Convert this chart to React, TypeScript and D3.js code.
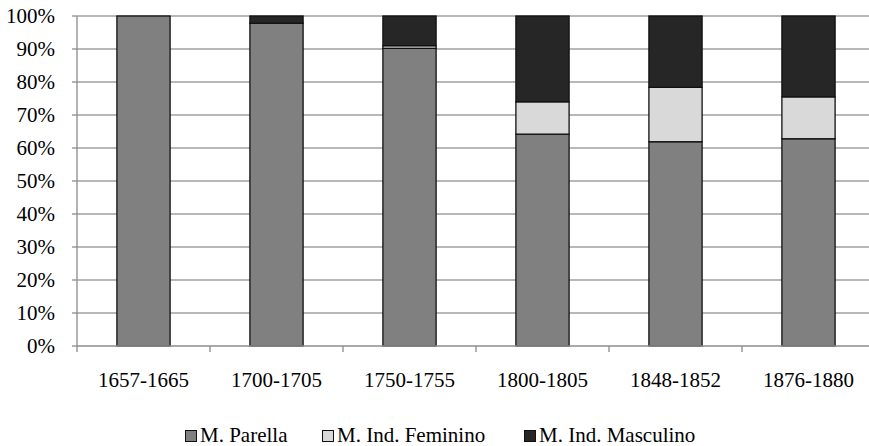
import React, { useEffect, useRef } from 'react';
import * as d3 from 'd3';

const periods = ['1657-1665', '1700-1705', '1750-1755', '1800-1805', '1848-1852', '1876-1880'];
const parella = [100, 97.8, 90.2, 64.2, 61.9, 62.8];
const indFeminino = [0, 0, 0.8, 9.8, 16.5, 12.7];
const indMasculino = [0, 2.2, 9.0, 26.0, 21.6, 24.5];
const seriesNames = ['M. Parella', 'M. Ind. Feminino', 'M. Ind. Masculino'];
const seriesColors = ['#808080', '#d9d9d9', '#262626'];
const yTicks = [0, 10, 20, 30, 40, 50, 60, 70, 80, 90, 100];

export default function App() {
  const svgRef = useRef<SVGSVGElement>(null);

  useEffect(() => {
    const svg = d3.select(svgRef.current);
    svg.selectAll('*').remove();

    const W = 869;
    const H = 446;
    const margin = { top: 16, left: 77, bottom: 100 };
    const plotW = 798;
    const plotH = H - margin.top - margin.bottom;
    const font = '"Liberation Serif", "Times New Roman", serif';
    const fontSize = '21px';

    const x = d3.scaleBand().domain(periods).range([margin.left, margin.left + plotW]).paddingInner(0.6).paddingOuter(0.3);
    const xOuter = d3.scaleBand().domain(periods).range([margin.left, margin.left + plotW]);
    const y = d3.scaleLinear().domain([0, 100]).range([margin.top + plotH, margin.top]);

    // Сетка
    svg.append('g')
      .selectAll('line')
      .data(yTicks.filter(t => t > 0))
      .enter()
      .append('line')
      .attr('x1', margin.left)
      .attr('x2', margin.left + plotW)
      .attr('y1', d => y(d))
      .attr('y2', d => y(d))
      .attr('stroke', '#a0a0a0')
      .attr('stroke-width', 1.3);

    // Стек
    const table = periods.map((p, i) => ({
      period: p,
      s0: parella[i],
      s1: indFeminino[i],
      s2: indMasculino[i],
    }));
    const stacked = d3.stack<typeof table[0]>().keys(['s0', 's1', 's2'])(table);

    stacked.forEach((layer, li) => {
      svg.append('g')
        .selectAll('rect')
        .data(layer.filter(d => d[1] - d[0] > 0))
        .enter()
        .append('rect')
        .attr('x', d => x(d.data.period)!)
        .attr('width', x.bandwidth())
        .attr('y', d => y(d[1]))
        .attr('height', d => y(d[0]) - y(d[1]))
        .attr('fill', seriesColors[li])
        .attr('stroke', '#111')
        .attr('stroke-width', 1.3);
    });

    // Оси
    const axisColor = '#8c8c8c';
    svg.append('line')
      .attr('x1', margin.left).attr('x2', margin.left)
      .attr('y1', y(100)).attr('y2', y(0))
      .attr('stroke', axisColor).attr('stroke-width', 1.3);
    svg.append('line')
      .attr('x1', margin.left).attr('x2', margin.left + plotW)
      .attr('y1', y(0)).attr('y2', y(0))
      .attr('stroke', axisColor).attr('stroke-width', 1.3);

    svg.append('g')
      .selectAll('line')
      .data(yTicks)
      .enter()
      .append('line')
      .attr('x1', margin.left - 5).attr('x2', margin.left)
      .attr('y1', d => y(d)).attr('y2', d => y(d))
      .attr('stroke', axisColor).attr('stroke-width', 1.3);

    svg.append('g')
      .selectAll('text')
      .data(yTicks)
      .enter()
      .append('text')
      .attr('x', 55)
      .attr('y', d => y(d) + 7)
      .attr('text-anchor', 'end')
      .style('font-family', font)
      .style('font-size', fontSize)
      .text(d => `${d}%`);

    const boundaries = periods.map(p => xOuter(p)!).concat([margin.left + plotW]);
    svg.append('g')
      .selectAll('line')
      .data(boundaries)
      .enter()
      .append('line')
      .attr('x1', d => d).attr('x2', d => d)
      .attr('y1', y(0)).attr('y2', y(0) + 6)
      .attr('stroke', axisColor).attr('stroke-width', 1.3);

    svg.append('g')
      .selectAll('text')
      .data(periods)
      .enter()
      .append('text')
      .attr('x', d => xOuter(d)! + xOuter.bandwidth() / 2)
      .attr('y', 387)
      .attr('text-anchor', 'middle')
      .style('font-family', font)
      .style('font-size', fontSize)
      .text(d => d);

    // Легенда
    const legendX = [185, 322, 524];
    const lg = svg.append('g');
    seriesNames.forEach((name, i) => {
      lg.append('rect')
        .attr('x', legendX[i] + 0.5)
        .attr('y', 430.5)
        .attr('width', 11)
        .attr('height', 11)
        .attr('fill', seriesColors[i])
        .attr('stroke', '#111')
        .attr('stroke-width', 1);
      lg.append('text')
        .attr('x', legendX[i] + 15)
        .attr('y', 442)
        .style('font-family', font)
        .style('font-size', fontSize)
        .text(name);
    });

    svg.attr('width', W).attr('height', H);
  }, []);

  return (
    <svg
      ref={svgRef}
      style={{ position: 'absolute', left: 0, top: 0, background: '#fff' }}
    ></svg>
  );
}
